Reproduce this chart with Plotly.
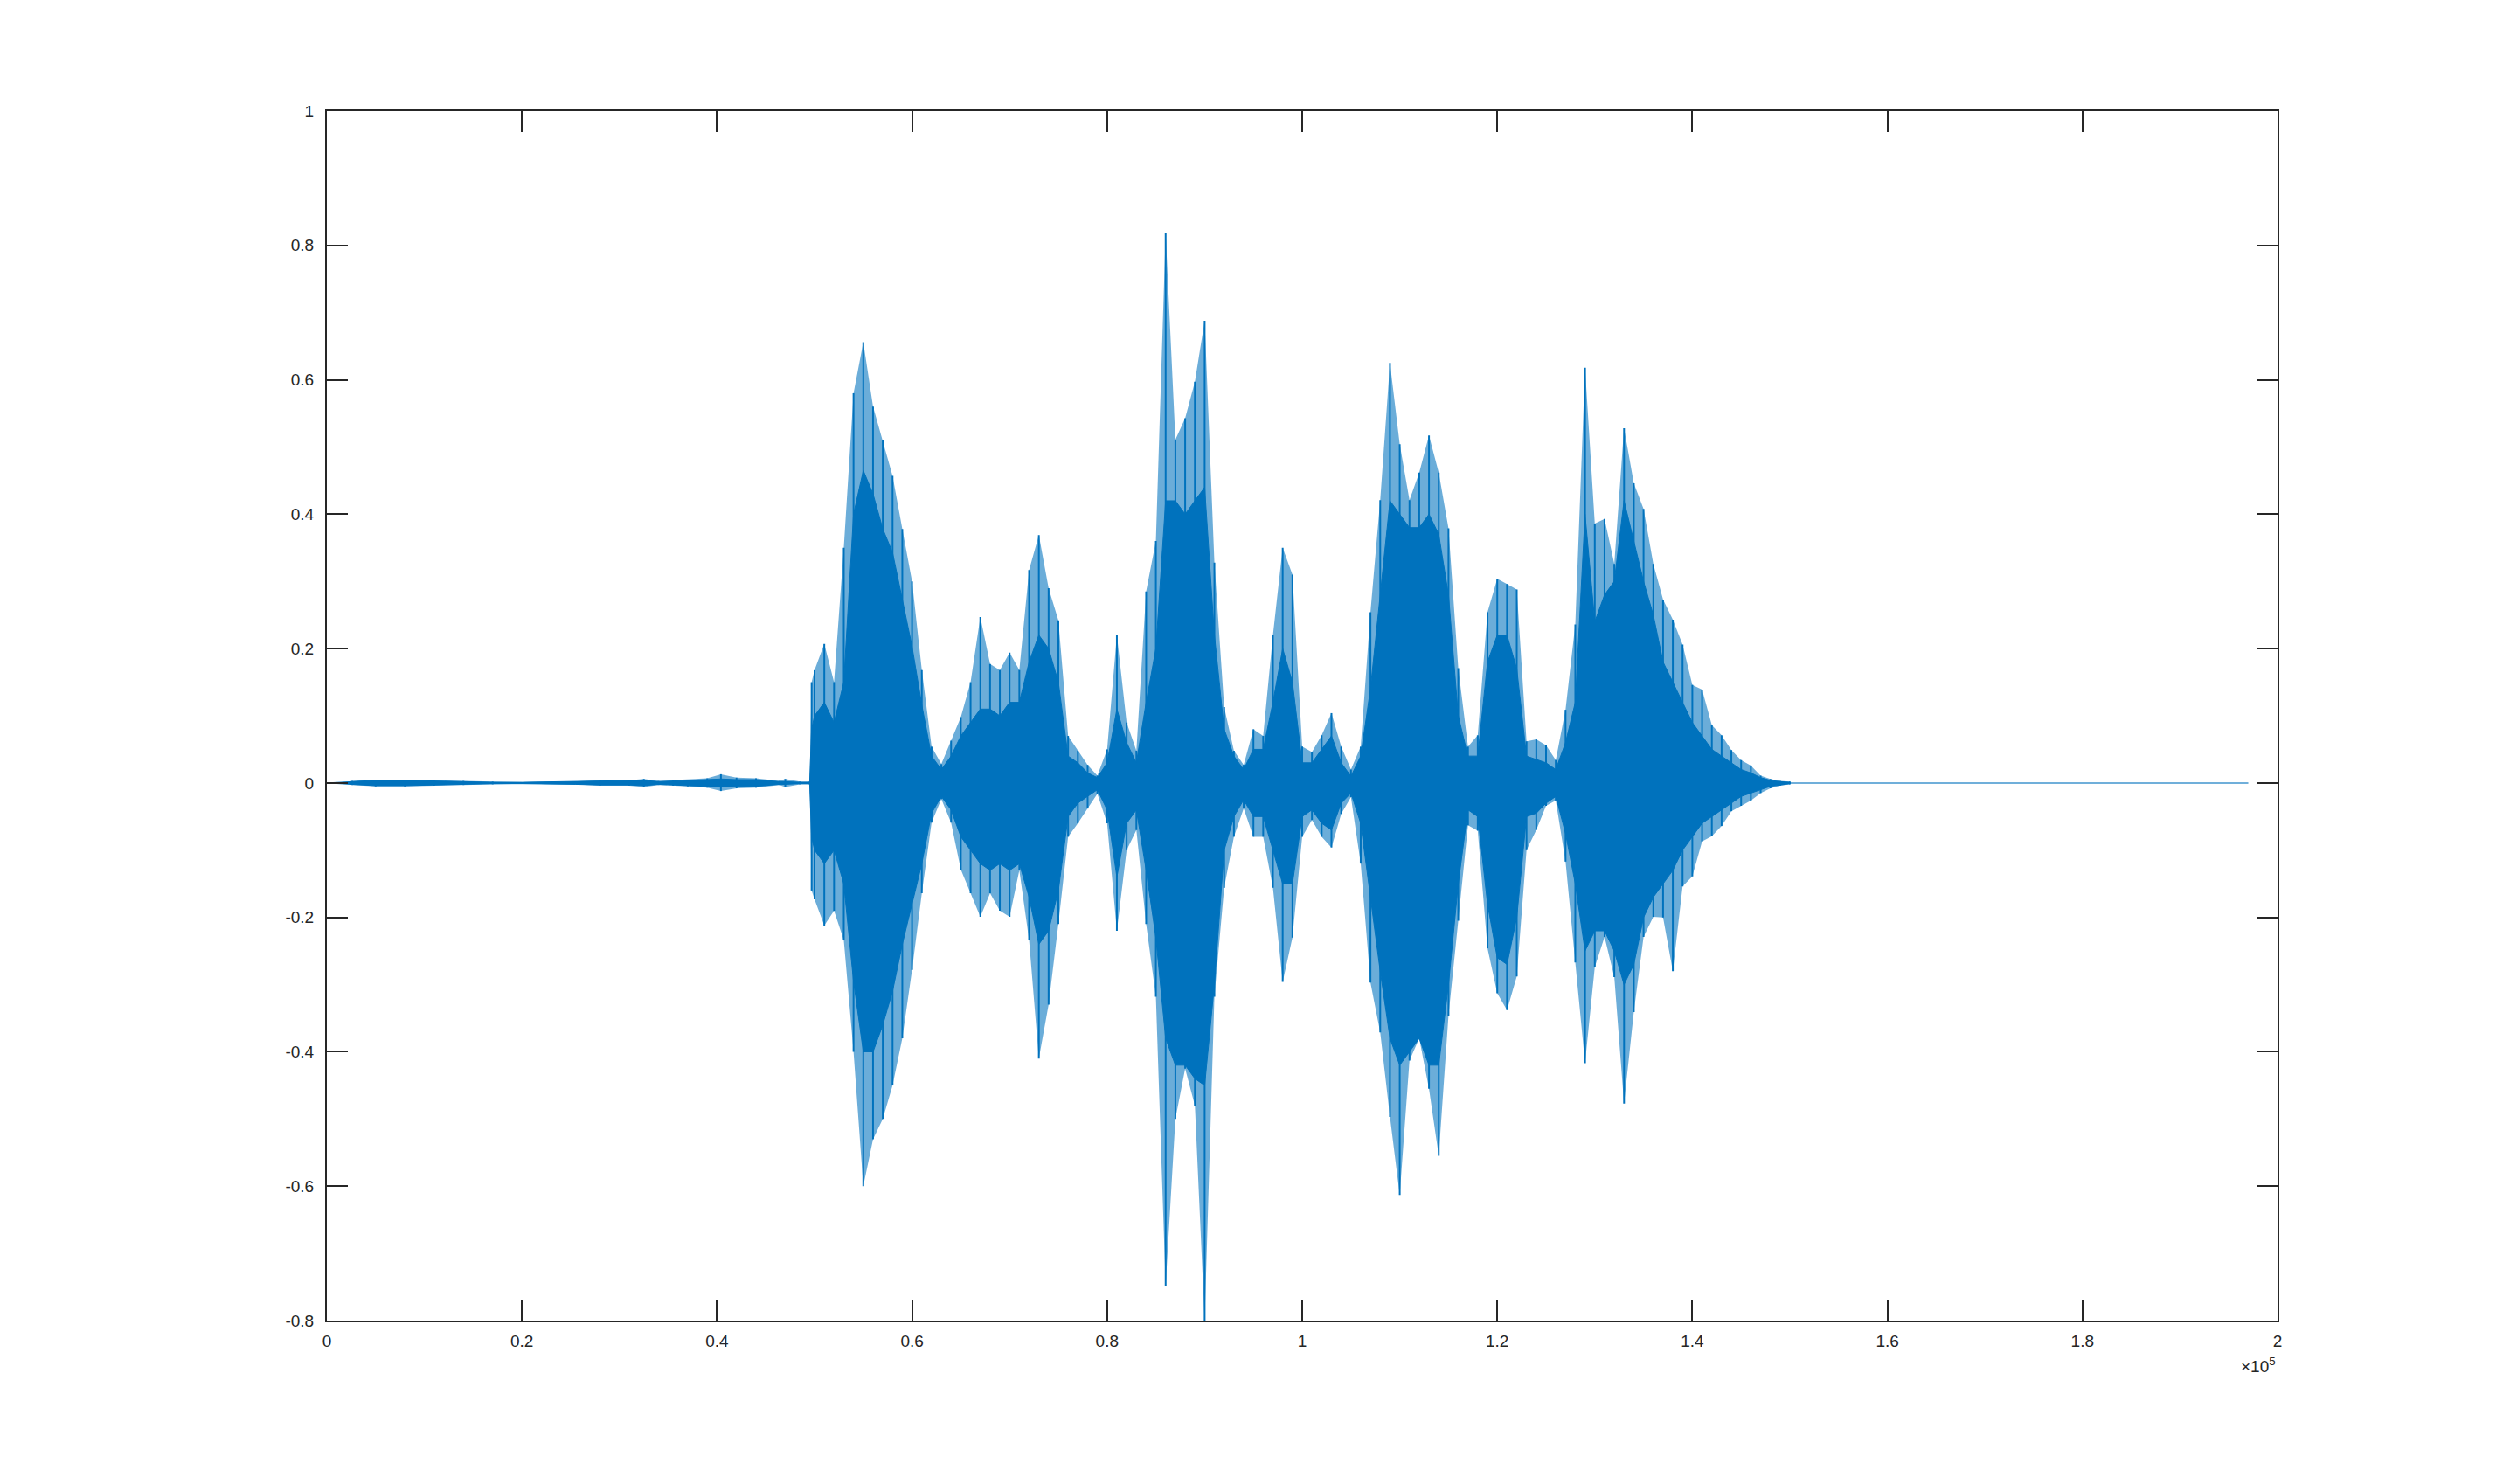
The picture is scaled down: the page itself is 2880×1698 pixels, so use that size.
import plotly.graph_objects as go

# ---------------- data ----------------
# sample index of each envelope reading
env_x = [0, 2000, 2600, 5000, 8000, 11000, 14000, 17000, 20000, 25500, 28000, 31000,
         32500, 34000, 35500, 37000, 39000, 40400, 42000, 44000, 46400, 47000, 48500, 49500,
         49700, 50000, 51000, 52000, 53000, 54000, 55000, 56000, 57000, 58000, 59000,
         60000, 61000, 62000, 63000, 64000, 65000, 66000, 67000, 68000, 69000,
         70000, 71000, 72000, 73000, 74000, 75000, 76000, 77000, 78000, 79000,
         80000, 81000, 82000, 83000, 84000, 85000, 86000, 87000, 88000, 89000,
         90000, 91000, 92000, 93000, 94000, 95000, 96000, 97000, 98000, 99000,
         100000, 101000, 102000, 103000, 104000, 105000, 106000, 107000, 108000, 109000,
         110000, 111000, 112000, 113000, 114000, 115000, 116000, 117000, 118000, 119000,
         120000, 121000, 122000, 123000, 124000, 125000, 126000, 127000, 128000, 129000,
         130000, 131000, 132000, 133000, 134000, 135000, 136000, 137000, 138000, 139000,
         140000, 141000, 142000, 143000, 144000, 145000, 146000, 147000, 148000, 149000,
         150000]

# outer peaks (per-column maxima / minima)
peak_hi = [0.0, 0.001, 0.003, 0.005, 0.005, 0.004, 0.003, 0.002, 0.001, 0.002, 0.004, 0.004,
           0.006, 0.003, 0.004, 0.005, 0.007, 0.013, 0.008, 0.007, 0.003, 0.006, 0.002, 0.002,
           0.15, 0.168, 0.207, 0.15, 0.35, 0.58, 0.656, 0.56, 0.51, 0.457, 0.378,
           0.30, 0.168, 0.054, 0.028, 0.063, 0.098, 0.15, 0.247, 0.177, 0.168,
           0.194, 0.168, 0.317, 0.369, 0.29, 0.242, 0.07, 0.048, 0.027, 0.011,
           0.05, 0.22, 0.09, 0.048, 0.285, 0.36, 0.818, 0.511, 0.543, 0.597,
           0.688, 0.328, 0.113, 0.048, 0.027, 0.08, 0.07, 0.22, 0.35, 0.31,
           0.054, 0.046, 0.071, 0.104, 0.054, 0.02, 0.054, 0.254, 0.421, 0.625,
           0.504, 0.421, 0.462, 0.517, 0.462, 0.379, 0.171, 0.054, 0.071, 0.254,
           0.304, 0.296, 0.288, 0.062, 0.065, 0.056, 0.034, 0.109, 0.236, 0.618,
           0.386, 0.393, 0.326, 0.528, 0.446, 0.408, 0.326, 0.273, 0.243, 0.206,
           0.146, 0.139, 0.086, 0.071, 0.049, 0.034, 0.026, 0.011, 0.006, 0.003,
           0.002]
peak_lo = [0.0, -0.001, -0.003, -0.005, -0.005, -0.004, -0.003, -0.002, -0.001, -0.002, -0.004, -0.004,
           -0.006, -0.003, -0.004, -0.005, -0.007, -0.012, -0.008, -0.007, -0.003, -0.006, -0.002, -0.002,
           -0.16, -0.173, -0.212, -0.19, -0.234, -0.40, -0.60, -0.53, -0.50, -0.45, -0.38,
           -0.278, -0.164, -0.059, -0.024, -0.059, -0.129, -0.164, -0.199, -0.164, -0.19,
           -0.199, -0.13, -0.234, -0.41, -0.33, -0.21, -0.08, -0.06, -0.038, -0.016,
           -0.06, -0.22, -0.10, -0.07, -0.21, -0.318, -0.748, -0.50, -0.425, -0.48,
           -0.80, -0.318, -0.156, -0.08, -0.038, -0.08, -0.08, -0.156, -0.296, -0.23,
           -0.08, -0.055, -0.08, -0.096, -0.046, -0.021, -0.12, -0.297, -0.371, -0.497,
           -0.613, -0.413, -0.38, -0.455, -0.555, -0.346, -0.205, -0.063, -0.071, -0.246,
           -0.313, -0.338, -0.288, -0.10, -0.07, -0.034, -0.026, -0.117, -0.267, -0.417,
           -0.274, -0.229, -0.289, -0.477, -0.341, -0.229, -0.199, -0.20, -0.28, -0.154,
           -0.139, -0.087, -0.079, -0.064, -0.042, -0.034, -0.026, -0.015, -0.008, -0.004,
           -0.002]

# solid core of the waveform
core_hi = [0.0, 0.001, 0.002, 0.004, 0.004, 0.003, 0.002, 0.001, 0.001, 0.002, 0.003, 0.003,
           0.004, 0.002, 0.003, 0.004, 0.005, 0.006, 0.005, 0.005, 0.002, 0.002, 0.001, 0.001,
           0.08, 0.10, 0.12, 0.09, 0.15, 0.40, 0.465, 0.43, 0.378, 0.343, 0.273,
           0.203, 0.116, 0.04, 0.02, 0.04, 0.07, 0.09, 0.11, 0.11, 0.10,
           0.12, 0.12, 0.18, 0.22, 0.20, 0.15, 0.04, 0.03, 0.015, 0.008,
           0.03, 0.11, 0.06, 0.03, 0.12, 0.20, 0.42, 0.42, 0.40, 0.42,
           0.44, 0.22, 0.08, 0.04, 0.02, 0.05, 0.05, 0.12, 0.20, 0.15,
           0.03, 0.03, 0.05, 0.07, 0.03, 0.01, 0.04, 0.14, 0.28, 0.42,
           0.40, 0.38, 0.38, 0.40, 0.37, 0.28, 0.10, 0.04, 0.04, 0.18,
           0.22, 0.22, 0.17, 0.04, 0.035, 0.03, 0.02, 0.06, 0.12, 0.40,
           0.24, 0.28, 0.30, 0.42, 0.36, 0.30, 0.25, 0.18, 0.15, 0.12,
           0.09, 0.07, 0.05, 0.04, 0.03, 0.02, 0.015, 0.008, 0.004, 0.002,
           0.001]
core_lo = [0.0, -0.001, -0.002, -0.004, -0.004, -0.003, -0.002, -0.001, -0.001, -0.002, -0.003, -0.003,
           -0.004, -0.002, -0.003, -0.004, -0.005, -0.006, -0.005, -0.005, -0.002, -0.002, -0.001, -0.001,
           -0.08, -0.10, -0.12, -0.10, -0.15, -0.295, -0.40, -0.40, -0.36, -0.31, -0.24,
           -0.18, -0.12, -0.045, -0.02, -0.04, -0.08, -0.10, -0.12, -0.13, -0.12,
           -0.13, -0.12, -0.17, -0.24, -0.22, -0.16, -0.05, -0.03, -0.02, -0.01,
           -0.04, -0.14, -0.06, -0.04, -0.13, -0.23, -0.38, -0.42, -0.42, -0.44,
           -0.45, -0.30, -0.10, -0.05, -0.025, -0.05, -0.05, -0.10, -0.15, -0.15,
           -0.05, -0.04, -0.06, -0.07, -0.03, -0.015, -0.06, -0.17, -0.28, -0.38,
           -0.42, -0.40, -0.38, -0.42, -0.42, -0.30, -0.15, -0.04, -0.05, -0.18,
           -0.26, -0.27, -0.20, -0.05, -0.045, -0.03, -0.02, -0.075, -0.15, -0.25,
           -0.22, -0.22, -0.25, -0.30, -0.27, -0.20, -0.17, -0.15, -0.13, -0.10,
           -0.08, -0.06, -0.05, -0.04, -0.03, -0.02, -0.015, -0.01, -0.005, -0.003,
           -0.001]

# silent baseline over the whole recording
base_x = [0, 197000]
base_y = [0.0, 0.0]

x_ticks = [0, 20000, 40000, 60000, 80000, 100000, 120000, 140000, 160000, 180000, 200000]
x_tick_labels = ["0", "0.2", "0.4", "0.6", "0.8", "1", "1.2", "1.4", "1.6", "1.8", "2"]
y_ticks = [-0.8, -0.6, -0.4, -0.2, 0, 0.2, 0.4, 0.6, 0.8, 1]
y_tick_labels = ["-0.8", "-0.6", "-0.4", "-0.2", "0", "0.2", "0.4", "0.6", "0.8", "1"]

# ---------------- figure ----------------
BLUE = "#0072BD"
fig = go.Figure()

# baseline
fig.add_trace(go.Scatter(x=base_x, y=base_y, mode="lines",
                         line=dict(color="rgba(0,114,189,0.75)", width=1.5),
                         hoverinfo="skip", showlegend=False))

# outer envelope (light, mimics sparse spikes)
fig.add_trace(go.Scatter(x=env_x + env_x[::-1], y=peak_hi + peak_lo[::-1],
                         mode="lines", fill="toself", fillcolor="rgba(0,114,189,0.58)",
                         line=dict(width=0), hoverinfo="skip", showlegend=False))

# spikes
sx, sy = [], []
for xv, h, l in zip(env_x, peak_hi, peak_lo):
    sx += [xv, xv, None]
    sy += [l, h, None]
fig.add_trace(go.Scatter(x=sx, y=sy, mode="lines",
                         line=dict(color=BLUE, width=2),
                         hoverinfo="skip", showlegend=False))

# solid core
fig.add_trace(go.Scatter(x=env_x + env_x[::-1], y=core_hi + core_lo[::-1],
                         mode="lines", fill="toself", fillcolor=BLUE,
                         line=dict(width=1, color=BLUE), hoverinfo="skip", showlegend=False))

axis_color = "#262626"
font = dict(family="Liberation Sans, Helvetica, Arial, sans-serif", size=19, color=axis_color)

fig.update_layout(
    width=2880, height=1698,
    margin=dict(l=366, r=282, t=119, b=195, pad=0),
    paper_bgcolor="white", plot_bgcolor="white",
    font=font, showlegend=False,
    xaxis=dict(range=[0, 200000], tickvals=x_ticks, ticktext=x_tick_labels,
               ticks="inside", ticklen=24, tickwidth=1.5, tickcolor=axis_color,
               showline=True, linecolor=axis_color, linewidth=2, mirror="ticks",
               showgrid=False, zeroline=False, ticklabelstandoff=5, tickfont=font),
    yaxis=dict(range=[-0.8, 1], tickvals=y_ticks, ticktext=y_tick_labels,
               ticks="inside", ticklen=24, tickwidth=1.5, tickcolor=axis_color,
               showline=True, linecolor=axis_color, linewidth=2, mirror="ticks",
               showgrid=False, zeroline=False, ticklabelstandoff=9, tickfont=font),
    annotations=[dict(text="\u00d710<sup>5</sup>", xref="paper", yref="paper",
                      x=1.0, y=-0.037, xanchor="right", yanchor="middle",
                      showarrow=False, font=font)],
)

fig.write_html("out.html")
